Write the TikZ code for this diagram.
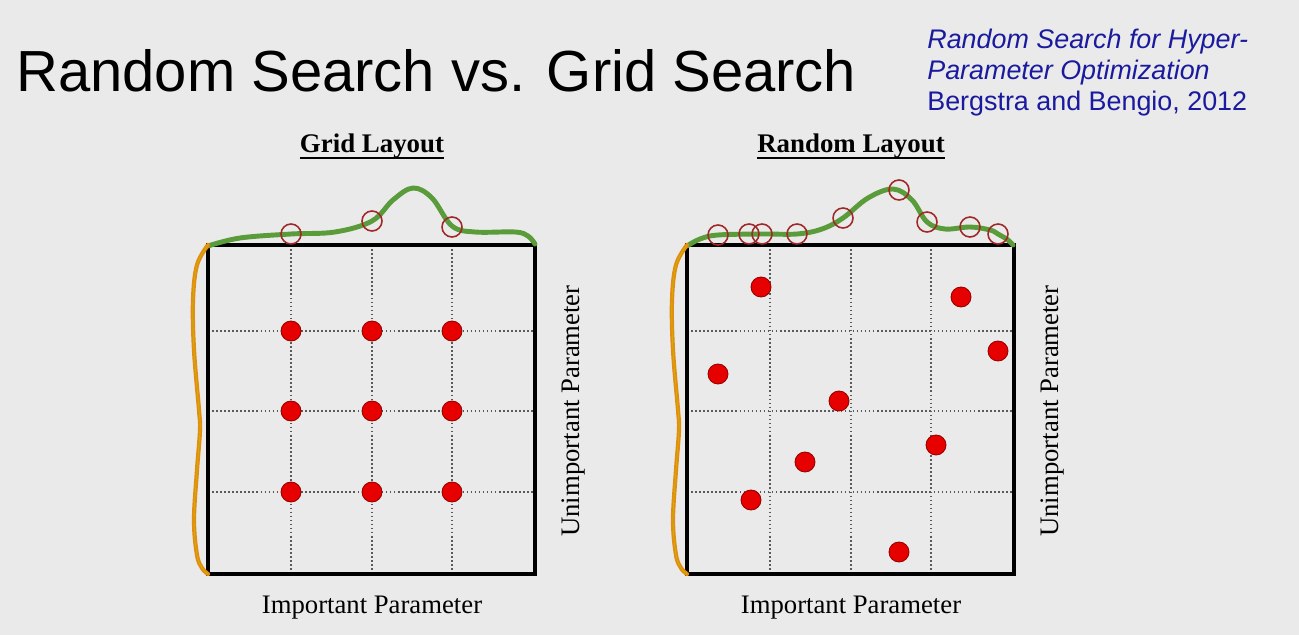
\documentclass[tikz,border=0pt]{standalone}
\usepackage{fontspec}
\setmainfont{Liberation Serif}
\newfontfamily\arialfont{Liberation Sans}
\usetikzlibrary{positioning}
\definecolor{cbg}{HTML}{EAEAEA}
\definecolor{cdot}{HTML}{E60000}
\definecolor{cring}{HTML}{A02828}
\definecolor{cgreen}{HTML}{5A9B3A}
\definecolor{corange}{HTML}{E58A12}
\definecolor{cyellow}{HTML}{C8B400}
\definecolor{cgrid}{HTML}{5A5A5A}
\definecolor{cnavy}{HTML}{1A1A9E}
\tikzset{
  every picture/.style={x=0.02cm, y=-0.02cm},
  frame/.style={draw=black, line width=1.8pt},
  gridline/.style={draw=cgrid, line width=0.9pt, dash pattern=on 0.9pt off 1.4pt},
  sample/.style={circle, fill=cdot, draw=cdot!65!black, line width=0.5pt, minimum size=0.4cm, inner sep=0pt},
  ring/.style={circle, draw=cring, line width=0.9pt, minimum size=0.4cm, inner sep=0pt},
  response/.style={draw=cgreen, line width=2.8pt, line cap=round},
  marginal/.style={draw=corange, line width=2.4pt, line cap=round},
  heading/.style={font=\fontsize{15.3}{18}\selectfont\bfseries, inner sep=0pt, anchor=base},
  uline/.style={draw=black, line width=1.5pt},
  axislabel/.style={font=\fontsize{15.2}{18}\selectfont, inner sep=0pt},
  cite/.style={font=\arialfont\fontsize{15.3}{18}\selectfont, text=cnavy, inner sep=0pt, anchor=base west},
}
\newcommand{\panel}[3]{ % x shift, name, heading
  \begin{scope}[shift={(#1,0)}]
    \foreach \g in {83,164,244} \draw[gridline] (\g,245) -- (\g,574);
    \foreach \g in {331,411,492} \draw[gridline] (0,\g) -- (327,\g);
    \draw[frame] (0,245) rectangle (327,574);
    \node[heading] (#2-head) at (164,153) {#3};
    \draw[uline] ([yshift=-2.8pt]#2-head.base west) -- ([yshift=-2.8pt]#2-head.base east);
    \node[axislabel, anchor=base] (#2-imp) at (164,613) {Important Parameter};
    \node[axislabel, rotate=90] (#2-unimp) at (365,411) {Unimportant Parameter};
  \end{scope}
}

\begin{document}
\begin{tikzpicture}
  \fill[cbg] (0,0) rectangle (1299,635);
  \useasboundingbox (0,0) rectangle (1299,635);
  % title and reference
  \node[font=\arialfont\fontsize{33}{40}\selectfont, inner sep=0pt, anchor=base west] (title) at (16,92) {Random Search vs. Grid Search};
  \node[cite, font=\arialfont\itshape\fontsize{15.3}{18}\selectfont] (cite1) at (927,49) {Random Search for Hyper-};
  \node[cite, font=\arialfont\itshape\fontsize{15.3}{18}\selectfont] (cite2) at (927,80) {Parameter Optimization};
  \node[cite] (cite3) at (927,111) {Bergstra and Bengio, 2012};
  % grid layout
  \panel{208}{grid}{Grid Layout}
  \draw[response] plot[smooth, tension=0.6] coordinates {(208,246) (240,238) (291,234) (335,232) (372,221) (393,200) (413,188) (432,198) (452,226) (475,232) (515,232) (528,236) (535,244)};
  \draw[marginal] plot[smooth, tension=0.6] coordinates {(208,245) (197,265) (193,300) (194,350) (199,410) (200,430) (197,470) (194,520) (197,555) (202,568) (208,574)};
  \draw[cyellow, line width=0.5pt] plot[smooth, tension=0.6] coordinates {(208,245) (197,265) (193,300) (194,350) (199,410) (200,430) (197,470) (194,520) (197,555) (202,568) (208,574)};
  \foreach \x [count=\i] in {291,372,452} \node[ring] (gring\i) at (\x,{\i==1 ? 234 : (\i==2 ? 221 : 227)}) {};
  \foreach \x in {291,372,452}
    \foreach \y in {331,411,492}
      \node[sample] (g-\x-\y) at (\x,\y) {};
  % random layout
  \panel{687}{rand}{Random Layout}
  \draw[response] plot[smooth, tension=0.6] coordinates {(687,246) (700,239) (718,235) (762,234) (797,234) (822,229) (843,218) (868,198) (893,189) (912,200) (927,222) (945,229) (970,227) (990,230) (998,234) (1008,240) (1013,245)};
  \draw[marginal] plot[smooth, tension=0.6] coordinates {(687,245) (676,265) (672,300) (673,350) (678,410) (679,430) (676,470) (673,520) (676,555) (681,568) (687,574)};
  \draw[cyellow, line width=0.5pt] plot[smooth, tension=0.6] coordinates {(687,245) (676,265) (672,300) (673,350) (678,410) (679,430) (676,470) (673,520) (676,555) (681,568) (687,574)};
  \foreach \x/\y [count=\i] in {718/235, 749/234, 762/234, 797/234, 843/218, 899/190, 927/222, 970/227, 998/234}
    \node[ring] (rring\i) at (\x,\y) {};
  \foreach \x/\y [count=\i] in {761/287, 961/297, 998/351, 718/374, 839/401, 936/445, 805/462, 751/500, 899/552}
    \node[sample] (r\i) at (\x,\y) {};
\end{tikzpicture}
\end{document}
